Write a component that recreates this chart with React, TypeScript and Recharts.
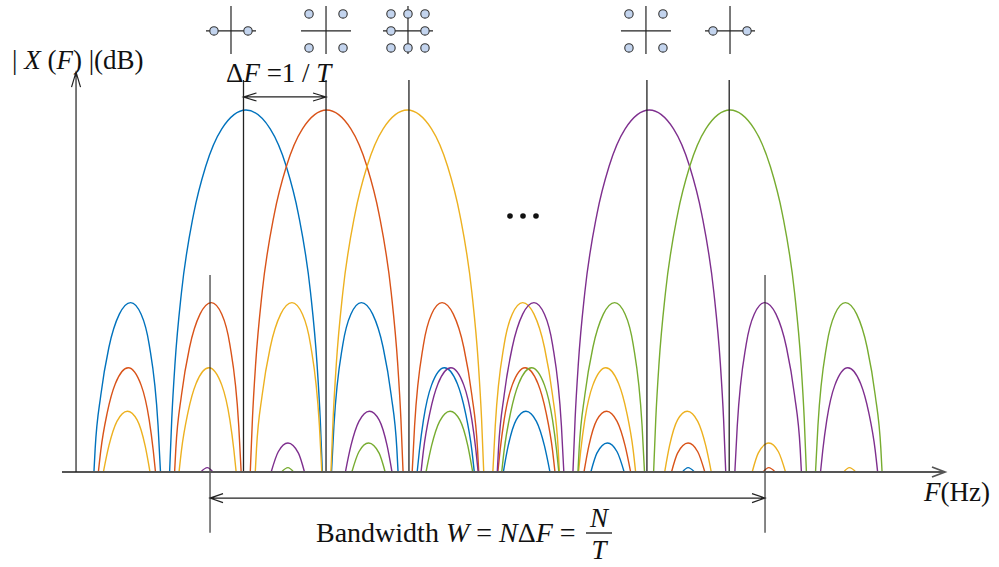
import { LineChart, Line, XAxis, YAxis, ReferenceLine, ReferenceDot } from 'recharts';

type Pt = [number, number];

// |X(F)| in dB, F in units of ΔF (subcarrier 0 at F = 0). Curves stop at the -25 dB floor.
// Each inner array is one lobe.

const BLUE_LOBES: Pt[][] = [
  [[-1.885, -25], [-1.87, -23.4], [-1.8, -19.7], [-1.7, -16.4], [-1.57, -14.1], [-1.43, -13.3], [-1.3, -14.1], [-1.2, -16.2], [-1.09, -21.8], [-1.06, -25]],
  [[-0.947, -25], [-0.92, -21.3], [-0.88, -17.5], [-0.8, -12.6], [-0.65, -7.2], [-0.5, -3.9], [-0.3, -1.3], [0, 0], [0.3, -1.3], [0.5, -3.9], [0.65, -7.2], [0.8, -12.6], [0.88, -17.5], [0.92, -21.3], [0.947, -25]],
  [[1.06, -25], [1.09, -21.8], [1.2, -16.2], [1.3, -14.1], [1.43, -13.3], [1.57, -14.1], [1.7, -16.4], [1.8, -19.7], [1.87, -23.4], [1.885, -25]],
  [[2.122, -25], [2.15, -23.5], [2.2, -21.4], [2.3, -19.0], [2.46, -17.8], [2.62, -18.9], [2.72, -20.9], [2.8, -23.5], [2.83, -25]],
  [[3.19, -25], [3.25, -23.2], [3.35, -21.4], [3.47, -20.8], [3.6, -21.5], [3.7, -23.2], [3.768, -25]],
  [[4.275, -25], [4.35, -23.7], [4.48, -23.0], [4.6, -23.6], [4.688, -25]],
  [[5.41, -25], [5.48, -24.7], [5.56, -25]],
];

const ORANGE_LOBES: Pt[][] = [
  [[-1.83, -25], [-1.8, -23.5], [-1.72, -20.9], [-1.62, -18.9], [-1.46, -17.8], [-1.3, -19.0], [-1.2, -21.4], [-1.15, -23.5], [-1.122, -25]],
  [[-0.885, -25], [-0.87, -23.4], [-0.8, -19.7], [-0.7, -16.4], [-0.57, -14.1], [-0.43, -13.3], [-0.3, -14.1], [-0.2, -16.2], [-0.09, -21.8], [-0.06, -25]],
  [[0.053, -25], [0.08, -21.3], [0.12, -17.5], [0.2, -12.6], [0.35, -7.2], [0.5, -3.9], [0.7, -1.3], [1, 0], [1.3, -1.3], [1.5, -3.9], [1.65, -7.2], [1.8, -12.6], [1.88, -17.5], [1.92, -21.3], [1.947, -25]],
  [[2.06, -25], [2.09, -21.8], [2.2, -16.2], [2.3, -14.1], [2.43, -13.3], [2.57, -14.1], [2.7, -16.4], [2.8, -19.7], [2.87, -23.4], [2.885, -25]],
  [[3.122, -25], [3.15, -23.5], [3.2, -21.4], [3.3, -19.0], [3.46, -17.8], [3.62, -18.9], [3.72, -20.9], [3.8, -23.5], [3.83, -25]],
  [[4.19, -25], [4.25, -23.2], [4.35, -21.4], [4.47, -20.8], [4.6, -21.5], [4.7, -23.2], [4.768, -25]],
  [[5.275, -25], [5.35, -23.7], [5.48, -23.0], [5.6, -23.6], [5.688, -25]],
  [[6.41, -25], [6.48, -24.7], [6.56, -25]],
];

const YELLOW_LOBES: Pt[][] = [
  [[-1.768, -25], [-1.7, -23.2], [-1.6, -21.5], [-1.47, -20.8], [-1.35, -21.4], [-1.25, -23.2], [-1.19, -25]],
  [[-0.83, -25], [-0.8, -23.5], [-0.72, -20.9], [-0.62, -18.9], [-0.46, -17.8], [-0.3, -19.0], [-0.2, -21.4], [-0.15, -23.5], [-0.122, -25]],
  [[0.115, -25], [0.13, -23.4], [0.2, -19.7], [0.3, -16.4], [0.43, -14.1], [0.57, -13.3], [0.7, -14.1], [0.8, -16.2], [0.91, -21.8], [0.94, -25]],
  [[1.053, -25], [1.08, -21.3], [1.12, -17.5], [1.2, -12.6], [1.35, -7.2], [1.5, -3.9], [1.7, -1.3], [2, 0], [2.3, -1.3], [2.5, -3.9], [2.65, -7.2], [2.8, -12.6], [2.88, -17.5], [2.92, -21.3], [2.947, -25]],
  [[3.06, -25], [3.09, -21.8], [3.2, -16.2], [3.3, -14.1], [3.43, -13.3], [3.57, -14.1], [3.7, -16.4], [3.8, -19.7], [3.87, -23.4], [3.885, -25]],
  [[4.122, -25], [4.15, -23.5], [4.2, -21.4], [4.3, -19.0], [4.46, -17.8], [4.62, -18.9], [4.72, -20.9], [4.8, -23.5], [4.83, -25]],
  [[5.19, -25], [5.25, -23.2], [5.35, -21.4], [5.47, -20.8], [5.6, -21.5], [5.7, -23.2], [5.768, -25]],
  [[6.275, -25], [6.35, -23.7], [6.48, -23.0], [6.6, -23.6], [6.688, -25]],
  [[7.41, -25], [7.48, -24.7], [7.56, -25]],
];

const PURPLE_LOBES: Pt[][] = [
  [[-0.56, -25], [-0.48, -24.7], [-0.41, -25]],
  [[0.312, -25], [0.4, -23.6], [0.52, -23.0], [0.65, -23.7], [0.725, -25]],
  [[1.232, -25], [1.3, -23.2], [1.4, -21.5], [1.53, -20.8], [1.65, -21.4], [1.75, -23.2], [1.81, -25]],
  [[2.17, -25], [2.2, -23.5], [2.28, -20.9], [2.38, -18.9], [2.54, -17.8], [2.7, -19.0], [2.8, -21.4], [2.85, -23.5], [2.878, -25]],
  [[3.115, -25], [3.13, -23.4], [3.2, -19.7], [3.3, -16.4], [3.43, -14.1], [3.57, -13.3], [3.7, -14.1], [3.8, -16.2], [3.91, -21.8], [3.94, -25]],
  [[4.053, -25], [4.08, -21.3], [4.12, -17.5], [4.2, -12.6], [4.35, -7.2], [4.5, -3.9], [4.7, -1.3], [5, 0], [5.3, -1.3], [5.5, -3.9], [5.65, -7.2], [5.8, -12.6], [5.88, -17.5], [5.92, -21.3], [5.947, -25]],
  [[6.06, -25], [6.09, -21.8], [6.2, -16.2], [6.3, -14.1], [6.43, -13.3], [6.57, -14.1], [6.7, -16.4], [6.8, -19.7], [6.87, -23.4], [6.885, -25]],
  [[7.122, -25], [7.15, -23.5], [7.2, -21.4], [7.3, -19.0], [7.46, -17.8], [7.62, -18.9], [7.72, -20.9], [7.8, -23.5], [7.83, -25]],
];

const GREEN_LOBES: Pt[][] = [
  [[0.44, -25], [0.52, -24.7], [0.59, -25]],
  [[1.312, -25], [1.4, -23.6], [1.52, -23.0], [1.65, -23.7], [1.725, -25]],
  [[2.232, -25], [2.3, -23.2], [2.4, -21.5], [2.53, -20.8], [2.65, -21.4], [2.75, -23.2], [2.81, -25]],
  [[3.17, -25], [3.2, -23.5], [3.28, -20.9], [3.38, -18.9], [3.54, -17.8], [3.7, -19.0], [3.8, -21.4], [3.85, -23.5], [3.878, -25]],
  [[4.115, -25], [4.13, -23.4], [4.2, -19.7], [4.3, -16.4], [4.43, -14.1], [4.57, -13.3], [4.7, -14.1], [4.8, -16.2], [4.91, -21.8], [4.94, -25]],
  [[5.053, -25], [5.08, -21.3], [5.12, -17.5], [5.2, -12.6], [5.35, -7.2], [5.5, -3.9], [5.7, -1.3], [6, 0], [6.3, -1.3], [6.5, -3.9], [6.65, -7.2], [6.8, -12.6], [6.88, -17.5], [6.92, -21.3], [6.947, -25]],
  [[7.06, -25], [7.09, -21.8], [7.2, -16.2], [7.3, -14.1], [7.43, -13.3], [7.57, -14.1], [7.7, -16.4], [7.8, -19.7], [7.87, -23.4], [7.885, -25]],
];

// marker lines, icons
const CARRIER_LINES = [-0.031, 0.992, 2.02, 4.97, 5.99];
const BAND_EDGES = [-0.446, 6.434];
const ICON_F = [-0.186, 0.992, 2.008, 4.958, 6.0];
const ICON_KIND = ['bpsk', 'qpsk', 'qam8', 'qpsk', 'bpsk'];

const CONSTELLATIONS: Record<string, Pt[]> = {
  bpsk: [[-1, 0], [1, 0]],
  qpsk: [[-1, -1], [1, -1], [-1, 1], [1, 1]],
  qam8: [[-1, -1], [0, -1], [1, -1], [-1, 0], [1, 0], [-1, 1], [0, 1], [1, 1]],
};

const SERIES = [
  { key: 's0', color: '#0072BD', lobes: BLUE_LOBES },
  { key: 's1', color: '#D95319', lobes: ORANGE_LOBES },
  { key: 's2', color: '#EDB120', lobes: YELLOW_LOBES },
  { key: 's3', color: '#7E2F8E', lobes: PURPLE_LOBES },
  { key: 's4', color: '#77AC30', lobes: GREEN_LOBES },
];

// plot frame (F units, dB)
const X_DOMAIN: [number, number] = [-3.0495, 9.3345];
const Y_DOMAIN: [number, number] = [-31.56, 7.597];

const FLOOR = -25;
const AXIS_X_F = -2.107;
const AXIS_TOP = 2.62;
const XAXIS_RANGE: [number, number] = [-2.281, 8.665];
const CARRIER_TOP = 2.07;
const DF_ARROW_Y = 0.9;
const BAND_TOP = -11.4;
const BAND_BOTTOM = -29.2;
const BAND_ARROW_Y = -26.8;
const ICON_Y = 5.46;

const SERIF = '"Liberation Serif", "Times New Roman", Times, serif';
const TXT = { fontFamily: SERIF, fill: '#111' };

function toRows(lobes: Pt[][]) {
  const rows: { f: number; v: number | null }[] = [];
  lobes.forEach((lobe) => {
    lobe.forEach(([f, v]) => rows.push({ f, v }));
    rows.push({ f: lobe[lobe.length - 1][0], v: null });
  });
  return rows;
}

function arrow(both: boolean, color: string, width: number, len = 12, half = 4.5) {
  return (p: any) => {
    const { x1, y1, x2, y2 } = p;
    const dx = x2 - x1;
    const dy = y2 - y1;
    const L = Math.hypot(dx, dy) || 1;
    const ux = dx / L;
    const uy = dy / L;
    const head = (x: number, y: number, sx: number, sy: number) =>
      `M${x - sx * len - sy * half},${y - sy * len + sx * half}L${x},${y}L${x - sx * len + sy * half},${y - sy * len - sx * half}`;
    let d = `M${x1},${y1}L${x2},${y2}` + head(x2, y2, ux, uy);
    if (both) d += head(x1, y1, -ux, -uy);
    return <path d={d} fill="none" stroke={color} strokeWidth={width} />;
  };
}

function Icon(props: any) {
  const { cx, cy, kind } = props;
  const pts = CONSTELLATIONS[kind];
  return (
    <g>
      <line x1={cx} y1={cy - 25} x2={cx} y2={cy + 23} stroke="#222" strokeWidth={1.2} />
      <line x1={cx - 25} y1={cy} x2={cx + 25} y2={cy} stroke="#222" strokeWidth={1.2} />
      {pts.map(([a, b], i) => (
        <circle key={i} cx={cx + a * 17} cy={cy + b * 17} r={4.2} fill="#c3d4ee" stroke="#333" strokeWidth={1.1} />
      ))}
    </g>
  );
}

export default function App() {
  return (
    <div style={{ position: 'relative', width: 999, height: 567, background: '#fff' }}>
      <style>{'body{margin:0}'}</style>
      <LineChart width={999} height={567} margin={{ top: 0, right: 0, bottom: 0, left: 0 }}>
        <XAxis type="number" dataKey="f" domain={X_DOMAIN} allowDataOverflow hide />
        <YAxis type="number" domain={Y_DOMAIN} allowDataOverflow hide />

        {SERIES.map((s) => (
          <Line
            key={s.key}
            data={toRows(s.lobes)}
            dataKey="v"
            type="monotone"
            stroke={s.color}
            strokeWidth={1.4}
            dot={false}
            activeDot={false}
            connectNulls={false}
            isAnimationActive={false}
          />
        ))}

        {CARRIER_LINES.map((f) => (
          <ReferenceLine key={`c${f}`} segment={[{ x: f, y: FLOOR }, { x: f, y: CARRIER_TOP }]} stroke="#222" strokeWidth={1.3} />
        ))}
        {BAND_EDGES.map((f) => (
          <ReferenceLine key={`b${f}`} segment={[{ x: f, y: BAND_BOTTOM }, { x: f, y: BAND_TOP }]} stroke="#222" strokeWidth={1.1} />
        ))}

        <ReferenceLine
          segment={[{ x: XAXIS_RANGE[0], y: FLOOR }, { x: XAXIS_RANGE[1], y: FLOOR }]}
          shape={arrow(false, '#555', 1.8, 13, 5)}
        />
        <ReferenceLine
          segment={[{ x: AXIS_X_F, y: FLOOR }, { x: AXIS_X_F, y: AXIS_TOP }]}
          shape={arrow(false, '#222', 1.2, 15, 4.5)}
        />
        <ReferenceLine
          segment={[{ x: CARRIER_LINES[0], y: DF_ARROW_Y }, { x: CARRIER_LINES[1], y: DF_ARROW_Y }]}
          shape={arrow(true, '#222', 1.2, 13, 4)}
        />
        <ReferenceLine
          segment={[{ x: BAND_EDGES[0], y: BAND_ARROW_Y }, { x: BAND_EDGES[1], y: BAND_ARROW_Y }]}
          shape={arrow(true, '#222', 1.2, 13, 4.5)}
        />

        {ICON_F.map((f, i) => (
          <ReferenceDot
            key={`i${i}`}
            x={f}
            y={ICON_Y}
            ifOverflow="visible"
            shape={(p: any) => <Icon cx={p.cx} cy={p.cy} kind={ICON_KIND[i]} />}
          />
        ))}
      </LineChart>

      <svg width={999} height={567} style={{ position: 'absolute', left: 0, top: 0, pointerEvents: 'none' }}>
        <text x={12} y={69} fontSize={27} style={TXT}>
          | <tspan fontStyle="italic">X</tspan> (<tspan fontStyle="italic">F</tspan>) |(dB)
        </text>
        <text x={226} y={82} fontSize={27} style={TXT}>
          Δ<tspan fontStyle="italic">F</tspan> =1 / <tspan fontStyle="italic">T</tspan>
        </text>
        <text x={924} y={501} fontSize={27} style={TXT}>
          <tspan fontStyle="italic">F</tspan>(Hz)
        </text>
        <text x={316} y={542} fontSize={28} style={TXT}>
          Bandwidth <tspan fontStyle="italic">W</tspan> = <tspan fontStyle="italic">N</tspan>Δ<tspan fontStyle="italic">F</tspan> =
        </text>
        <text x={599} y={527} fontSize={27} textAnchor="middle" fontStyle="italic" style={TXT}>N</text>
        <line x1={586} y1={533} x2={612} y2={533} stroke="#111" strokeWidth={1.3} />
        <text x={599} y={559} fontSize={27} textAnchor="middle" fontStyle="italic" style={TXT}>T</text>
        <circle cx={510} cy={216} r={2.8} fill="#111" />
        <circle cx={523} cy={216} r={2.8} fill="#111" />
        <circle cx={536} cy={216} r={2.8} fill="#111" />
      </svg>
    </div>
  );
}
